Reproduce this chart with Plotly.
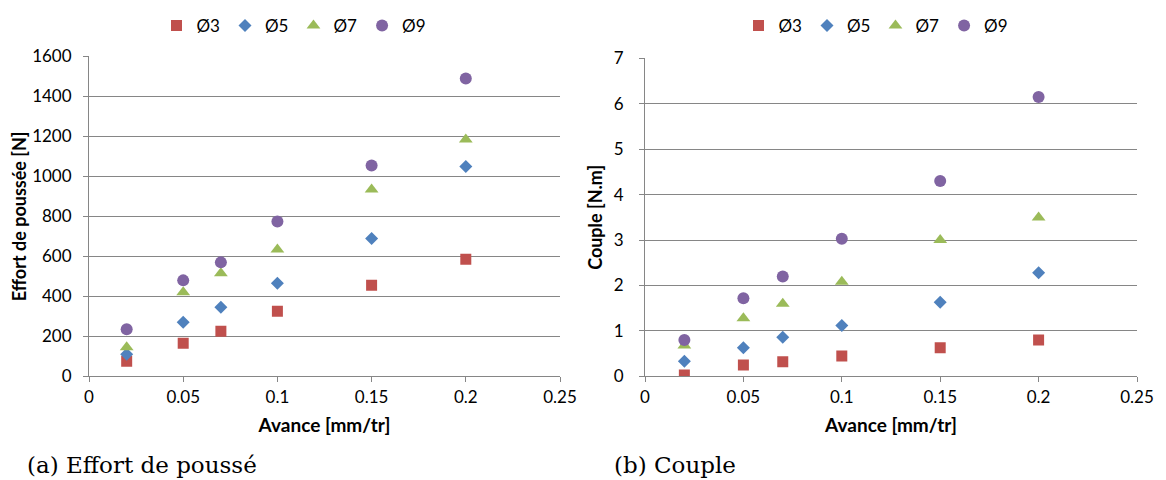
import plotly.graph_objects as go

avance = [0.02, 0.05, 0.07, 0.1, 0.15, 0.2]
series_names = ["Ø3", "Ø5", "Ø7", "Ø9"]

effort_d3 = [75, 165, 225, 325, 455, 585]
effort_d5 = [110, 270, 345, 465, 690, 1050]
effort_d7 = [145, 420, 515, 635, 935, 1185]
effort_d9 = [235, 480, 570, 775, 1055, 1490]

couple_d3 = [0.03, 0.25, 0.32, 0.45, 0.63, 0.80]
couple_d5 = [0.33, 0.63, 0.86, 1.12, 1.63, 2.28]
couple_d7 = [0.68, 1.28, 1.60, 2.08, 3.00, 3.50]
couple_d9 = [0.80, 1.72, 2.20, 3.03, 4.30, 6.15]

colors = ["#C0504D", "#4F81BD", "#9BBB59", "#8064A2"]
symbols = ["square", "diamond", "triangle-up", "circle"]
sizes = [11, 10, 12, 12]

FONT = "Lato"
# page body has an 8px margin: figure drawn at 1158x472, offset by 8px
OFF = 8
W, H = 1166 - OFF, 480 - OFF


def px(x):
    return (x - OFF) / W


def py(y):
    return 1 - (y - OFF) / H


fig = go.Figure()

effort = [effort_d3, effort_d5, effort_d7, effort_d9]
couple = [couple_d3, couple_d5, couple_d7, couple_d9]

for i, name in enumerate(series_names):
    fig.add_trace(go.Scatter(
        x=avance, y=effort[i], mode="markers", name=name,
        marker=dict(color=colors[i], symbol=symbols[i], size=sizes[i]),
        xaxis="x", yaxis="y", legend="legend"))
for i, name in enumerate(series_names):
    fig.add_trace(go.Scatter(
        x=avance, y=couple[i], mode="markers", name=name,
        marker=dict(color=colors[i], symbol=symbols[i], size=sizes[i]),
        xaxis="x2", yaxis="y2", legend="legend2"))

axis_common = dict(showline=True, linecolor="#868686", linewidth=1,
                   ticks="outside", ticklen=5, tickcolor="#868686",
                   tickfont=dict(family=FONT, size=17, color="#000"),
                   zeroline=False, automargin=False)
xtitle_font = dict(family=FONT, size=19, color="#000")
ytitle_font = dict(family=FONT, size=18, color="#000")

fig.update_layout(
    template="none",
    width=W, height=H,
    margin=dict(l=0, r=0, t=0, b=0),
    paper_bgcolor="white", plot_bgcolor="white",
    font=dict(family=FONT, color="#000"),
    xaxis=dict(domain=[px(89), px(560)], range=[0, 0.25], dtick=0.05,
               showgrid=False,
               title=dict(text="<b>Avance [mm/tr]</b>", font=xtitle_font, standoff=12),
               **axis_common),
    yaxis=dict(domain=[py(375), py(51)], range=[0, 1600], dtick=200,
               showgrid=True, gridcolor="#868686", gridwidth=1,
               ticklabelstandoff=8,
               title=dict(text="<b>Effort de poussée [N]</b>", font=ytitle_font, standoff=6),
               **axis_common),
    xaxis2=dict(domain=[px(645), px(1137)], range=[0, 0.25], dtick=0.05,
                showgrid=False, anchor="y2",
                title=dict(text="<b>Avance [mm/tr]</b>", font=xtitle_font, standoff=12),
                **axis_common),
    yaxis2=dict(domain=[py(375), py(53)], range=[0, 7], dtick=1, anchor="x2",
                showgrid=True, gridcolor="#868686", gridwidth=1,
                ticklabelstandoff=12,
                title=dict(text="<b>Couple [N.m]</b>", font=ytitle_font, standoff=6),
                **axis_common),
    legend=dict(orientation="h", x=px(294), y=py(20), xanchor="center", yanchor="middle",
                font=dict(family=FONT, size=17), itemwidth=30,
                bgcolor="rgba(0,0,0,0)"),
    legend2=dict(orientation="h", x=px(876), y=py(20), xanchor="center", yanchor="middle",
                 font=dict(family=FONT, size=17), itemwidth=30,
                 bgcolor="rgba(0,0,0,0)"),
    annotations=[
        dict(text="(a) Effort de poussé", x=px(25), y=py(465), xref="paper", yref="paper",
             xanchor="left", yanchor="middle", showarrow=False,
             font=dict(family="DejaVu Serif", size=23, color="#000")),
        dict(text="(b) Couple", x=px(612), y=py(465), xref="paper", yref="paper",
             xanchor="left", yanchor="middle", showarrow=False,
             font=dict(family="DejaVu Serif", size=23, color="#000")),
    ],
)

fig.write_html("out.html")
